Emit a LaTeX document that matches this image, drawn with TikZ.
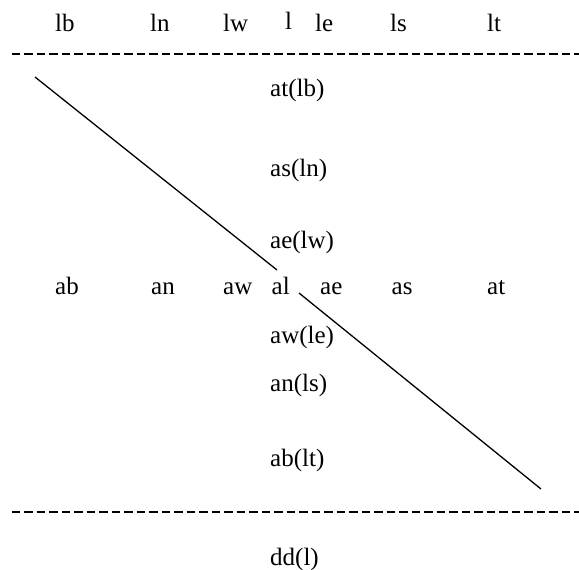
\documentclass[tikz,border=0pt]{standalone}
\usepackage{fontspec}
\setmainfont{Liberation Serif}
\usetikzlibrary{positioning}
\begin{document}
\begin{tikzpicture}[
  x=1pt, y=-1pt,
  lab/.style={font=\fontsize{25}{30}\selectfont, inner sep=0pt, anchor=base west},
  sep/.style={dash pattern=on 8.5pt off 4pt, line width=1.3pt},
  diag/.style={line width=1.3pt}
]
\useasboundingbox (0,0) rectangle (579,570);
% top row: lambda side
\node[lab] (lb) at (55,31.5)  {lb};
\node[lab] (ln) at (150,31.5) {ln};
\node[lab] (lw) at (223,31.5) {lw};
\node[lab] (l)  at (285,29)   {l};
\node[lab] (le) at (315,31.5) {le};
\node[lab] (ls) at (390,31.5) {ls};
\node[lab] (lt) at (487,31.5) {lt};

% middle row: alpha side
\node[lab] (ab) at (55,294)    {ab};
\node[lab] (an) at (151,294)   {an};
\node[lab] (aw) at (223,294)   {aw};
\node[lab] (al) at (271.5,294) {al};
\node[lab] (ae) at (320,294)   {ae};
\node[lab] (as) at (391.5,294) {as};
\node[lab] (at) at (487,294)   {at};

% column of images
\node[lab] (atlb) at (270,96.7)  {at(lb)};
\node[lab] (asln) at (270,176.7) {as(ln)};
\node[lab] (aelw) at (270,248)   {ae(lw)};
\node[lab] (awle) at (270,343)   {aw(le)};
\node[lab] (anls) at (270,391)   {an(ls)};
\node[lab] (ablt) at (270,466)   {ab(lt)};
\node[lab] (ddl)  at (270,565)   {dd(l)};

% separators
\coordinate (s1a) at (11.5,54);  \coordinate (s1b) at (579,54);
\coordinate (s2a) at (11.5,512); \coordinate (s2b) at (579,512);
\draw[sep] (s1a) -- (s1b);
\draw[sep] (s2a) -- (s2b);

% diagonal, broken at al
\coordinate (d1) at (35,77);   \coordinate (d2) at (277,270);
\coordinate (d3) at (299,293); \coordinate (d4) at (541,489);
\draw[diag] (d1) -- (d2);
\draw[diag] (d3) -- (d4);
\end{tikzpicture}
\end{document}
